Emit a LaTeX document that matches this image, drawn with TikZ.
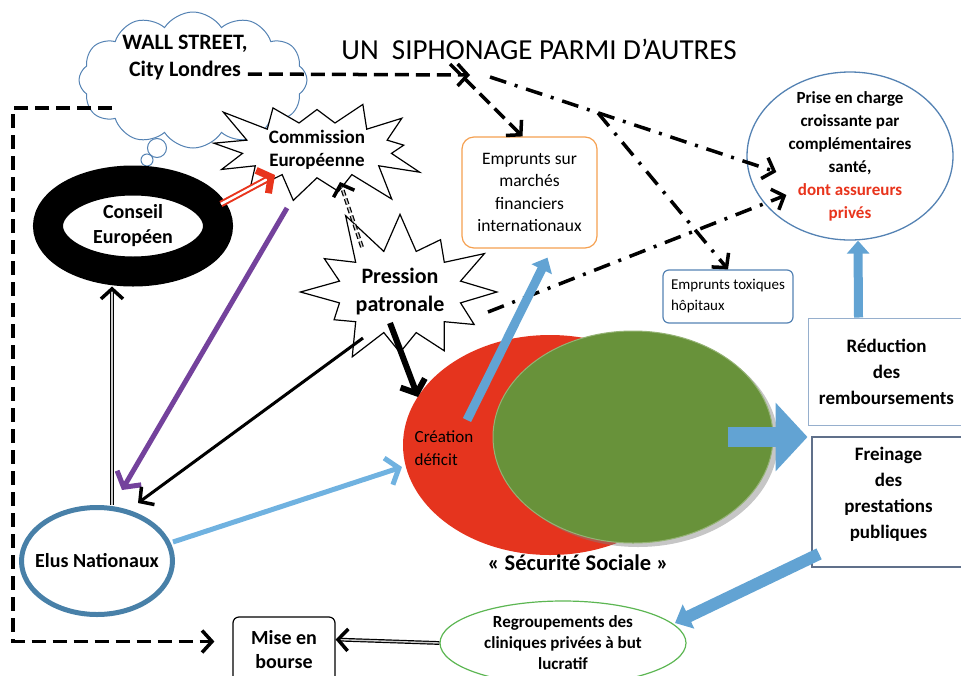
\documentclass[tikz,border=0pt]{standalone}
\usepackage{fontspec}
\setmainfont{Carlito}
\usetikzlibrary{shapes.symbols, shapes.geometric, arrows.meta, shadows}

\newcommand{\fsz}[2]{\fontsize{#1}{#2}\selectfont}

\definecolor{steel}{RGB}{84,130,179}
\definecolor{eluline}{RGB}{72,128,168}
\definecolor{orangebox}{RGB}{245,160,80}
\definecolor{secured}{RGB}{229,52,30}
\definecolor{secugreen}{RGB}{104,146,58}
\definecolor{arrowblue}{RGB}{98,163,211}
\definecolor{lightarrow}{RGB}{112,178,224}
\definecolor{purplearrow}{RGB}{116,66,156}
\definecolor{cliniqgreen}{RGB}{92,182,82}
\definecolor{privred}{RGB}{232,52,28}
\definecolor{reducline}{RGB}{150,175,205}
\definecolor{boxgrey}{RGB}{96,112,138}

\tikzset{
    x=1pt, y=-1pt, % one unit is one pixel of the scan, y runs downwards
    every node/.style={align=center, inner sep=0pt}, % labels are centred
    chev/.tip={Straight Barb[length=10pt, width=22pt, line width=3.5pt]}, % open arrow head
    dashline/.style={line width=3.5pt, dash pattern=on 14pt off 7pt, -chev}, % money flows
    dashdot/.style={line width=3.5pt, dash pattern=on 17pt off 9pt on 3pt off 9pt, -chev},
    twin/.style={draw=black, double=gray!40, double distance=1.4pt, line width=1.2pt, -chev}, % double line arrows
    block/.style={line width=9pt, draw=arrowblue, -{Triangle[width=22pt, length=13pt]}}, % fat blue arrows
    burst/.style={starburst, draw, fill=white, line width=1.2pt}, % shouting bubbles
    framebox/.style={rectangle, draw, line width=1.2pt},
}

\begin{document}
\begin{tikzpicture}
    \useasboundingbox (0,0) rectangle (961,675);
    \node[font=\fsz{29}{34}] (title) at (539,49) {UN~~SIPHONAGE PARMI D’AUTRES};

    % who decides
    \node[cloud, cloud puffs=12, cloud puff arc=115, aspect=1.7, draw=steel, line width=1pt, minimum width=228pt, minimum height=136pt] (wall) at (193,80) {};
    \node[circle, draw=steel, line width=1pt, fill=white, minimum size=19pt] (puff1) at (157,148) {};
    \node[circle, draw=steel, line width=1pt, minimum size=12pt] (puff2) at (147,160) {};
    \node[font=\fsz{22}{27}\bfseries] (walltxt) at (185,58) {WALL STREET,\\City Londres};
    \node[burst, starburst points=13, starburst point height=40pt, random starburst=3, minimum width=230pt, minimum height=132pt, font=\fsz{19}{23}\bfseries] (commission) at (317,150) {Commission\\Européenne};
    \node[burst, starburst points=12, starburst point height=48pt, random starburst=11, minimum width=180pt, minimum height=180pt, font=\fsz{22}{28}\bfseries] (pression) at (400,292) {Pression\\patronale};
    \node[ellipse, draw, line width=30pt, fill=white, minimum width=170pt, minimum height=91pt, font=\fsz{20}{25}\bfseries] (conseil) at (133,226) {Conseil\\Européen};
    \node[ellipse, draw=eluline, line width=5pt, inner xsep=-14pt, minimum width=151pt, minimum height=107pt, font=\fsz{20}{24}\bfseries] (elus) at (97,561) {Elus Nationaux};

    % where the money goes
    \node[framebox, draw=orangebox, rounded corners=12pt, minimum width=135pt, minimum height=111pt, font=\fsz{17.5}{22.5}] (empr) at (529.5,192.5) {Emprunts sur\\marchés\\financiers\\internationaux};
    \node[framebox, draw=steel, rounded corners=6pt, minimum width=130pt, minimum height=53pt, align=left, font=\fsz{15}{21}] (toxiq) at (728,296.5) {Emprunts toxiques\\hôpitaux};
    \node[ellipse, draw=steel, line width=1.3pt, inner ysep=-10pt, minimum width=206pt, minimum height=168pt, font=\fsz{17}{23}\bfseries] (prise) at (850,156) {Prise en charge\\croissante par\\complémentaires\\santé,\\\textcolor{privred}{dont assureurs}\\\textcolor{privred}{privés}};
    \node[framebox, draw=reducline, line width=1pt, minimum width=157pt, minimum height=107pt, font=\fsz{19}{26}\bfseries] (reduc) at (886.5,371.5) {Réduction\\des\\remboursements};
    \node[framebox, draw=boxgrey, line width=1.8pt, minimum width=153pt, minimum height=130pt, font=\fsz{19}{26}\bfseries] (frein) at (888.5,502) {Freinage\\des\\prestations\\publiques\\[-8pt]\mbox{}};

    % the social security
    \node[ellipse, fill=secured, minimum width=294pt, minimum height=220pt] (deficit) at (550,445) {};
    \node[ellipse, fill=secugreen, draw=secugreen!70!white, line width=1pt, drop shadow={opacity=.45, shadow xshift=5pt, shadow yshift=-4pt}, minimum width=280pt, minimum height=212pt] (secu) at (633,437) {};
    \node[align=left, font=\fsz{17}{23}] (creation) at (444,448) {Création\\déficit};
    \node[font=\fsz{22.5}{27}\bfseries] (secutxt) at (578,563) {« Sécurité Sociale »};
    \node[framebox, rounded corners=6pt, minimum width=102pt, minimum height=65pt, font=\fsz{20}{24}\bfseries] (bourse) at (284,649.5) {Mise en\\bourse};
    \node[ellipse, draw=cliniqgreen, line width=1.2pt, inner ysep=-6pt, minimum width=246pt, minimum height=84pt, font=\fsz{17}{21}\bfseries] (regroup) at (563,643) {Regroupements des\\cliniques privées à but\\lucratif};

    % dashed flows
    \coordinate (hub) at (470,75);
    \coordinate (fork) at (450,64);
    \coordinate (split) at (490,77);
    \coordinate (split2) at (598,113);
    \coordinate (corner) at (13,108);
    \draw[dashline] ([yshift=-16pt]walltxt.east) -- (hub);
    \draw[dashline] (fork) -- ([xshift=-7pt]empr.north);
    \draw[dashdot] (split) -- ([shift={(30pt,-16pt)}]prise.west);
    \draw[dashdot] (split2) -- (toxiq.north);
    \draw[dashdot] ([shift={(88pt,-20pt)}]pression.center) -- ([shift={(40pt,-39pt)}]prise.west);
    \draw[dashline, shorten >=18pt] ([xshift=99pt]corner) -- (corner) |- ([yshift=8pt]bourse.west);

    % pressure
    \draw[draw=privred, double=white, double distance=2.5pt, line width=2pt, -{Straight Barb[length=10pt, width=26pt, line width=7pt]}] ([shift={(88pt,22pt)}]conseil.center) -- ([shift={(-42pt,-25pt)}]commission.center);
    \draw[line width=5pt, draw=purplearrow, -{Straight Barb[length=11pt, width=28pt, line width=5pt]}] ([shift={(-30pt,-58pt)}]commission.center) -- ([shift={(25pt,15pt)}]elus.north);
    \draw[twin, dash pattern=on 6pt off 3pt] ([shift={(-38pt,45pt)}]pression.center) -- ([shift={(23pt,-32pt)}]commission.center);
    \draw[twin] ([xshift=15pt]elus.north) -- ([xshift=15pt]elus.north |- conseil.south);
    \draw[line width=3pt, -chev] ([shift={(-37pt,-46pt)}]pression.center) -- ([shift={(41pt,58pt)}]elus.center);
    \draw[line width=6pt, -{Straight Barb[length=11pt, width=26pt, line width=6pt]}] ([shift={(-10pt,-31pt)}]pression.center) -- ([shift={(-132pt,48pt)}]deficit.center);
    \draw[line width=5pt, draw=lightarrow, -{Straight Barb[length=11pt, width=28pt, line width=5pt]}] ([shift={(76pt,19pt)}]elus.center) -- ([shift={(-148pt,-22pt)}]deficit.center);

    % consequences
    \draw[block] ([shift={(-83pt,25pt)}]deficit.center) -- ([shift={(18pt,-9pt)}]empr.south);
    \draw[block] ([xshift=-28pt]reduc.north) -- ([xshift=8pt]prise.south);
    \draw[block, line width=12pt, -{Triangle[width=26pt, length=15pt]}] ([shift={(8pt,14pt)}]frein.south west) -- ([shift={(112pt,20pt)}]regroup.center);
    \draw[block, line width=20pt, -{Triangle[width=67pt, length=32pt]}] ([xshift=-46pt]secu.east) -- (secu.east -| reduc.west);
    \draw[twin] (regroup.west) -- ([yshift=10pt]bourse.east);
\end{tikzpicture}
\end{document}
